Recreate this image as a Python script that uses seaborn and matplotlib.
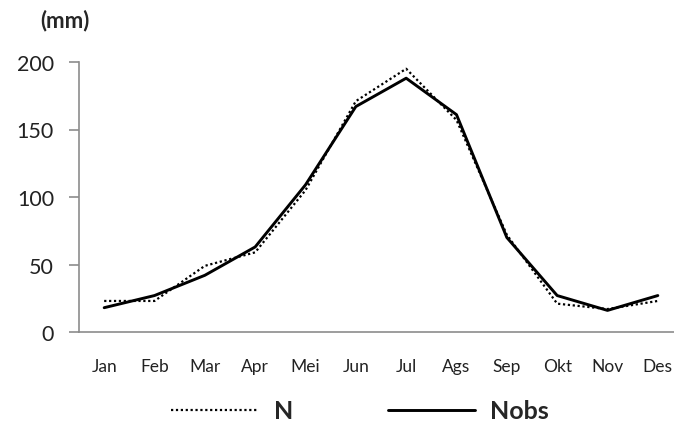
import pandas as pd
import numpy as np
import seaborn as sns
import matplotlib.pyplot as plt
from matplotlib.lines import Line2D

months = ['Jan', 'Feb', 'Mar', 'Apr', 'Mei', 'Jun', 'Jul', 'Ags', 'Sep', 'Okt', 'Nov', 'Des']
n_vals = [23, 23, 49, 59, 105, 171, 195, 157, 72, 21, 17, 23]
nobs_vals = [18, 27, 42, 63, 109, 167, 188, 161, 70, 27, 16, 27]

df = pd.DataFrame({'month': months, 'N': n_vals, 'Nobs': nobs_vals})

sns.set_style('white')
plt.rcParams['font.family'] = ['Lato', 'DejaVu Sans']

fig = plt.figure(figsize=(6.74, 4.39), dpi=100)
ax = fig.add_axes([79 / 674, 106 / 439, 604 / 674, 270 / 439])
ax.patch.set_alpha(0)

sns.lineplot(data=df, x='month', y='N', ax=ax, color='black', lw=1.6,
             linestyle=(0, (1, 1.2)), sort=False)
sns.lineplot(data=df, x='month', y='Nobs', ax=ax, color='black', lw=2.1, sort=False)

ax.set_xlim(-0.5, 11.5)
ax.set_ylim(0, 200)
ax.set_yticks([0, 50, 100, 150, 200])
ax.set_xlabel('')
ax.set_ylabel('')

for s in ['top', 'right']:
    ax.spines[s].set_visible(False)
for s in ['left', 'bottom']:
    ax.spines[s].set_color('#8c8c8c')
    ax.spines[s].set_linewidth(1.2)
    ax.spines[s].set_clip_on(False)

ax.set_xticks(np.arange(-0.5, 12, 1), minor=True)
ax.tick_params(axis='x', which='major', length=0, labelsize=12.5, pad=19, labelcolor='#222222')
ax.tick_params(axis='x', which='minor', length=6, width=1.2, color='#8c8c8c', direction='out')
ax.tick_params(axis='y', length=7, width=1.2, color='#8c8c8c', labelsize=15.5, pad=11,
               labelcolor='#222222', left=True)

fig.text(40 / 674, 1 - 21 / 439, '(mm)', fontsize=16, fontweight='bold', va='center')

handles = [Line2D([], [], color='black', lw=1.6, linestyle=(0, (1, 1.2))),
           Line2D([], [], color='black', lw=2.1)]
leg = fig.legend(handles, ['N', 'Nobs'], loc='center', bbox_to_anchor=(360 / 674, 1 - 412 / 439),
                 ncol=2, frameon=False, handlelength=3.5, handletextpad=0.6, columnspacing=3.8,
                 prop={'size': 18, 'weight': 'bold'})

fig.savefig('out.png', dpi=100)
